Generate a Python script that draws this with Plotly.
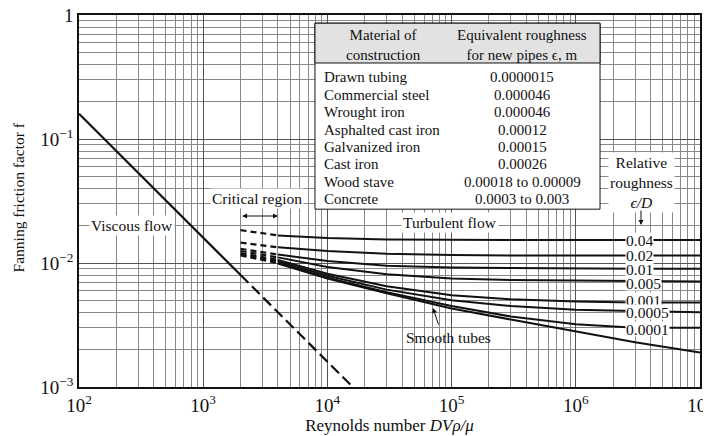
import numpy as np
import plotly.graph_objects as go

# laminar (viscous) line, f = 16/Re
re_lam = [100, 2000]
f_lam = [0.16, 0.008]
re_lam_ext = [2000, 16000]
f_lam_ext = [0.008, 0.001]

# turbulent curves (Fanning f), read at these Reynolds numbers
re_turb = [4e3, 1e4, 3e4, 1e5, 3e5, 1e6, 3e6, 1e7]
rel_rough = ["0.04", "0.02", "0.01", "0.005", "0.001", "0.0005", "0.0001"]
f_rough = {
    "0.04": [0.0167, 0.0159, 0.0155, 0.0153, 0.0153, 0.0153, 0.0153, 0.0153],
    "0.02": [0.0134, 0.0125, 0.0119, 0.0116, 0.0115, 0.0115, 0.0115, 0.0115],
    "0.01": [0.0117, 0.0104, 0.0095, 0.0092, 0.0091, 0.0090, 0.0090, 0.0090],
    "0.005": [0.0111, 0.0093, 0.0081, 0.0075, 0.0073, 0.0072, 0.0071, 0.0071],
    "0.001": [0.0106, 0.0082, 0.0065, 0.0055, 0.0051, 0.0049, 0.0048, 0.0048],
    "0.0005": [0.0103, 0.0079, 0.0061, 0.0050, 0.0045, 0.0042, 0.0041, 0.0040],
    "0.0001": [0.0100, 0.0076, 0.0058, 0.0045, 0.0037, 0.0032, 0.0030, 0.0030],
}
f_smooth = [0.0099, 0.0075, 0.0057, 0.0043, 0.0035, 0.0028, 0.0023, 0.0019]

# critical region (dashed), Re 2000 -> 4000
re_crit = [2000, 4000]
f_crit = {
    "0.04": [0.0184, 0.0167],
    "0.02": [0.0146, 0.0134],
    "0.01": [0.0130, 0.0117],
    "0.005": [0.0125, 0.0111],
    "0.001": [0.0120, 0.0106],
    "0.0005": [0.0117, 0.0103],
    "0.0001": [0.0115, 0.0100],
}

materials = ["Drawn tubing", "Commercial steel", "Wrought iron", "Asphalted cast iron",
             "Galvanized iron", "Cast iron", "Wood stave", "Concrete"]
roughness = ["0.0000015", "0.000046", "0.000046", "0.00012",
             "0.00015", "0.00026", "0.00018 to 0.00009", "0.0003 to 0.003"]
table_header = ["Material of<br>construction", "Equivalent roughness<br>for new pipes ϵ, m"]

x_ticks = [1e2, 1e3, 1e4, 1e5, 1e6, 1e7]
x_ticktext = ["10<sup>2</sup>", "10<sup>3</sup>", "10<sup>4</sup>",
              "10<sup>5</sup>", "10<sup>6</sup>", "10<sup>7</sup>"]
y_ticks = [1e-3, 1e-2, 1e-1, 1]
y_ticktext = ["10<sup>−3</sup>", "10<sup>−2</sup>", "10<sup>−1</sup>", "1"]

FONT = "Liberation Serif"
BLACK = "#111111"

fig = go.Figure()

fig.add_trace(go.Scatter(x=re_lam, y=f_lam, mode="lines",
                         line=dict(color=BLACK, width=2.2)))
fig.add_trace(go.Scatter(x=re_lam_ext, y=f_lam_ext, mode="lines",
                         line=dict(color=BLACK, width=2.2, dash="11px,5px")))

for k in rel_rough:
    fig.add_trace(go.Scatter(x=re_turb, y=f_rough[k], mode="lines",
                             line=dict(color=BLACK, width=2)))
    fig.add_trace(go.Scatter(x=re_crit, y=f_crit[k], mode="lines",
                             line=dict(color=BLACK, width=2.2, dash="6px,4px")))
fig.add_trace(go.Scatter(x=re_turb, y=f_smooth, mode="lines",
                         line=dict(color=BLACK, width=2)))

minor_vals = [m * 10.0 ** p for p in range(-3, 7) for m in range(2, 10)]

annotations = []


def label(text, x, y, size=15.5, **kw):
    d = dict(text=text, x=x, y=y, xref="x", yref="y", showarrow=False,
             xanchor="center", yanchor="middle",
             bgcolor="white", borderpad=1,
             font=dict(family=FONT, size=size, color=BLACK))
    d.update(kw)
    annotations.append(d)


label("Viscous flow", 2.427, -1.694)
label("Critical region", 3.433, -1.476)
label("Turbulent flow", 4.987, -1.677)
label("Smooth tubes", 4.979, -2.597, bgcolor="rgba(0,0,0,0)")
label("Relative<br>roughness<br><i>ϵ/D</i>", 6.525, -1.347)
label_nudge = {"0.005": -1.8, "0.001": 2.6, "0.0001": -1.4}
for k in rel_rough:
    label(k, 6.396, np.log10(f_rough[k][-1]), size=15.5, xanchor="left",
          height=14, borderpad=0, yshift=label_nudge.get(k, 0))

# arrows
annotations.append(dict(x=3.602, y=-1.621, ax=3.301, ay=-1.621, axref="x", ayref="y",
                        xref="x", yref="y", text="", showarrow=True,
                        arrowside="end+start", arrowhead=2, arrowsize=1,
                        arrowwidth=1, arrowcolor=BLACK))
annotations.append(dict(x=4.850, y=-2.363, ax=6, ay=18, xref="x", yref="y",
                        text="", showarrow=True, arrowhead=2, arrowsize=1,
                        arrowwidth=1, arrowcolor=BLACK))
annotations.append(dict(x=6.525, y=-1.694, ax=0, ay=-16, xref="x", yref="y",
                        text="", showarrow=True, arrowhead=2, arrowsize=1,
                        arrowwidth=1, arrowcolor=BLACK))

# y-axis title placed by hand
annotations.append(dict(text="Fanning friction factor f", x=-0.098, y=0.51,
                        xref="paper", yref="paper", textangle=-90, showarrow=False,
                        xanchor="center", yanchor="middle",
                        font=dict(family=FONT, size=15.5, color=BLACK)))

# roughness table drawn as a box with text rows (paper coords of the plot area)
tx0, tx1, ty_top, ty_head, ty_bot = 0.380, 0.839, 0.978, 0.871, 0.478
col1_left, col1_mid, col2_mid = 0.391, 0.491, 0.714
row_top, row_step = 0.832, 0.0466
shapes = [
    dict(type="rect", xref="paper", yref="paper", x0=tx0, x1=tx1, y0=ty_bot, y1=ty_top,
         fillcolor="white", line=dict(color=BLACK, width=1), layer="above"),
    dict(type="rect", xref="paper", yref="paper", x0=tx0, x1=tx1, y0=ty_head, y1=ty_top,
         fillcolor="#e2e2e2", line=dict(color=BLACK, width=1), layer="above"),
]
tab_font = dict(family=FONT, size=15, color=BLACK)
for txt, xm in zip(table_header, [col1_mid, col2_mid]):
    annotations.append(dict(text=txt, x=xm, y=(ty_top + ty_head) / 2, xref="paper",
                            yref="paper", xanchor="center", yanchor="middle",
                            yshift=-2, showarrow=False, font=tab_font))
for i, (m, r) in enumerate(zip(materials, roughness)):
    yy = row_top - i * row_step
    annotations.append(dict(text=m, x=col1_left, y=yy, xref="paper", yref="paper",
                            xanchor="left", yanchor="middle", showarrow=False,
                            font=tab_font))
    annotations.append(dict(text=r, x=col2_mid, y=yy, xref="paper", yref="paper",
                            xanchor="center", yanchor="middle", showarrow=False,
                            font=tab_font))

axis_common = dict(
    type="log", showgrid=True, gridcolor="#555555", gridwidth=1,
    showline=True, linecolor=BLACK, linewidth=1.5, mirror=True,
    ticks="", zeroline=False, tickmode="array", automargin=False,
    ticklabeloverflow="allow",
    tickfont=dict(family=FONT, size=19, color=BLACK),
    minor=dict(tickmode="array", tickvals=minor_vals, showgrid=True,
               gridcolor="#888888", gridwidth=1, ticks=""),
)

# the page body adds an 8 px offset, so the figure is sized to end at the window edge
fig.update_layout(
    width=703, height=428,
    margin=dict(l=71, r=11, t=7, b=49),
    paper_bgcolor="white", plot_bgcolor="white",
    showlegend=False,
    font=dict(family=FONT, color=BLACK),
    xaxis=dict(axis_common, range=[2, 7], tickvals=x_ticks, ticktext=x_ticktext,
               title=dict(text="Reynolds number <i>DVρ/μ</i>",
                          font=dict(family=FONT, size=17, color=BLACK), standoff=0)),
    yaxis=dict(axis_common, range=[-3, 0], tickvals=y_ticks, ticktext=y_ticktext),
    annotations=annotations,
    shapes=shapes,
)

fig.write_html("out.html")
